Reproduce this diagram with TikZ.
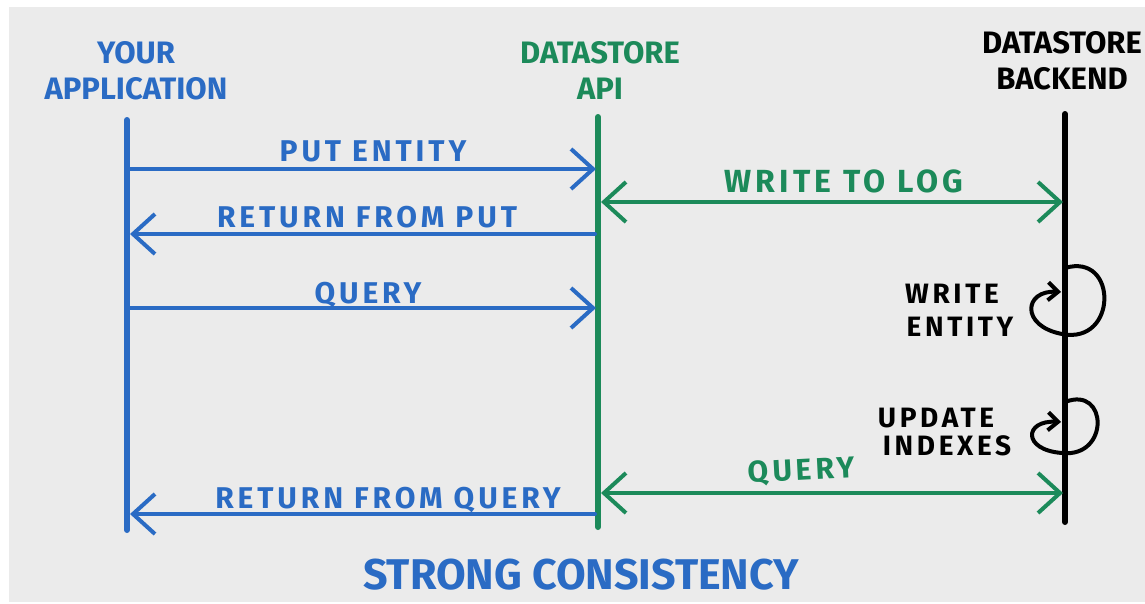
\documentclass[tikz,border=0pt]{standalone}
\usepackage{fontspec}
\newfontfamily\hand[LetterSpace=13]{Fira Sans}
\newfontfamily\handtight{Fira Sans}
\usetikzlibrary{arrows.meta}
\definecolor{penblue}{HTML}{2A6BC4}
\definecolor{pengreen}{HTML}{1C8A5A}
\definecolor{board}{HTML}{EBEBEB}
\tikzset{
  life/.style={line width=6pt, line cap=round},
  msg/.style={line width=4pt, line cap=round, -{Straight Barb[length=22pt,width=40pt]}},
  both/.style={line width=4pt, line cap=round, {Straight Barb[length=22pt,width=40pt]}-{Straight Barb[length=22pt,width=40pt]}},
  self/.style={line width=4pt, line cap=round, -{Straight Barb[length=10pt,width=18pt]}},
  head/.style={font=\handtight\bfseries\fontsize{31}{36}\selectfont, align=center, inner sep=0pt},
  lbl/.style={font=\hand\bfseries\fontsize{30}{32}\selectfont, inner sep=0pt, anchor=base},
  note/.style={font=\hand\bfseries\fontsize{28}{30}\selectfont, inner sep=0pt, anchor=base},
}
\begin{document}
\begin{tikzpicture}[x=1pt, y=-1pt]
\fill[white] (0,0) rectangle (1145,603);
\fill[board] (9,7) rectangle (1145,602);
\useasboundingbox (0,0) rectangle (1145,603);

\node[head, text=penblue] (app) at (136,71) {YOUR\\APPLICATION};
\node[head, text=pengreen] (api) at (600,70) {DATASTORE\\API};
\node[head, text=black] (back) at (1062,61) {DATASTORE\\BACKEND};

\coordinate (app top) at (127,120);
\coordinate (app bot) at (127,530);
\coordinate (api top) at (598,117);
\coordinate (api bot) at (598,527);
\coordinate (back top) at (1065,114);
\coordinate (back bot) at (1065,522);

\draw[life, penblue] (app top) -- (app bot);
\draw[life, pengreen] (api top) -- (api bot);
\draw[life, black] (back top) -- (back bot);

\coordinate (app put) at (127,169);
\coordinate (api put) at (596,169);
\coordinate (api ret) at (595,234);
\coordinate (app ret) at (130,234);
\coordinate (app q) at (127,308);
\coordinate (api q) at (596,308);
\coordinate (api rq) at (595,514);
\coordinate (app rq) at (130,514);
\coordinate (api log) at (601,202);
\coordinate (back log) at (1063,202);
\coordinate (api q2) at (601,493);
\coordinate (back q2) at (1063,493);

\draw[msg, penblue] (app put) -- (api put);
\draw[msg, penblue] (api ret) -- (app ret);
\draw[msg, penblue] (app q) -- (api q);
\draw[msg, penblue] (api rq) -- (app rq);
\draw[both, pengreen] (api log) -- (back log);
\draw[both, pengreen] (api q2) -- (back q2);

\node[lbl, text=penblue] (put lbl) at (373,161) {PUT ENTITY};
\node[lbl, text=penblue] (ret lbl) at (367,227) {RETURN FROM PUT};
\node[lbl, text=penblue] (q lbl) at (368,303) {QUERY};
\node[lbl, text=penblue] (rq lbl) at (388,508) {RETURN FROM QUERY};
\node[lbl, text=pengreen, font=\hand\bfseries\fontsize{32}{34}\selectfont] (log lbl) at (844,192) {WRITE TO LOG};
\node[lbl, text=pengreen, rotate=3] (q2 lbl) at (802,480) {QUERY};

\node[note] (we1) at (952,303) {WRITE};
\node[note] (we2) at (960,336) {ENTITY};
\node[note] (ui1) at (936,427) {UPDATE};
\node[note] (ui2) at (947,455) {INDEXES};

\coordinate (we a) at (1065,268);
\coordinate (we b) at (1061,292);
\coordinate (ui a) at (1065,402);
\coordinate (ui b) at (1061,422);
\draw[self] (we a) .. controls (1118,252) and (1118,345) .. (1062,334) .. controls (1020,326) and (1024,290) .. (we b);
\draw[self] (ui a) .. controls (1108,385) and (1110,458) .. (1062,453) .. controls (1022,450) and (1024,420) .. (ui b);

\node[font=\handtight\bfseries\fontsize{43}{46}\selectfont, text=penblue, anchor=base, inner sep=0pt] (title) at (581,589) {STRONG CONSISTENCY};
\end{tikzpicture}
\end{document}
